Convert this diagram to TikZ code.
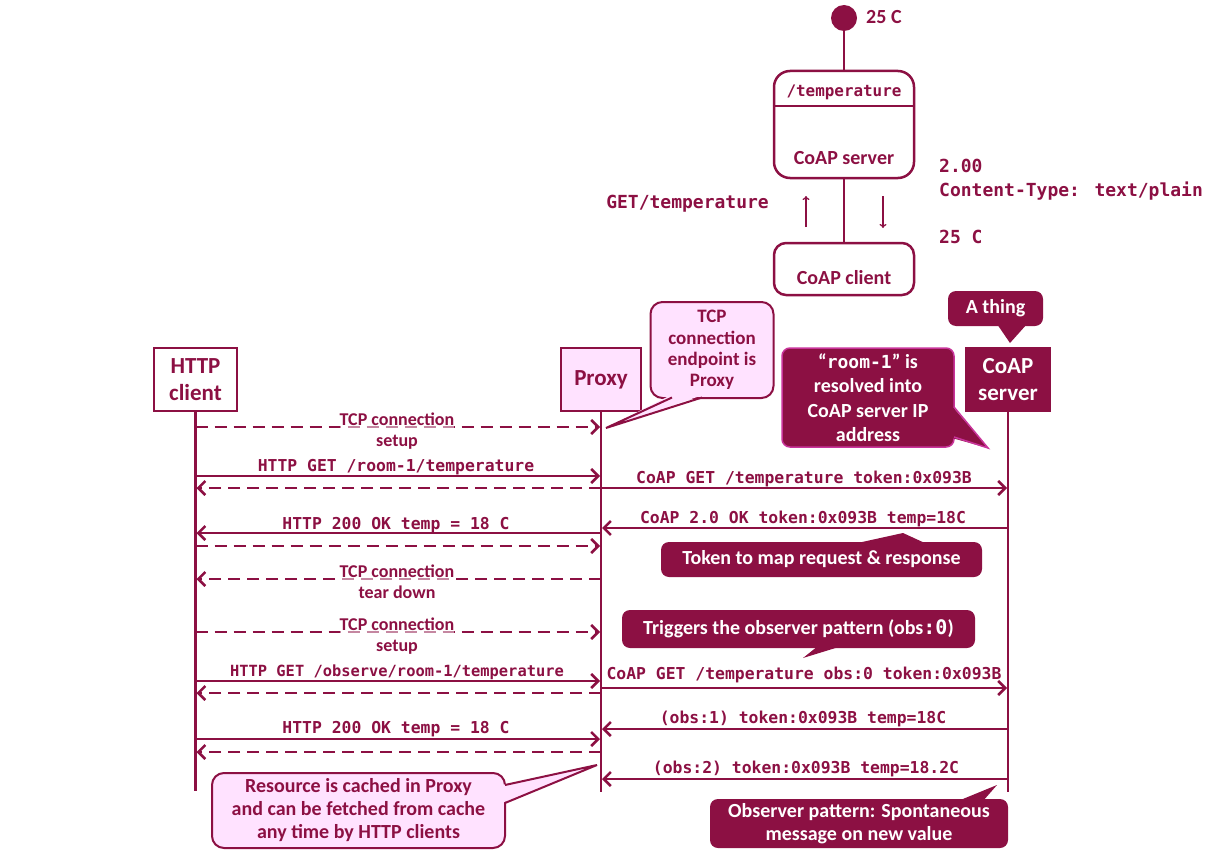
\documentclass[tikz,border=0pt]{standalone}
\usepackage{fontspec}
\setmainfont{Carlito}
\newfontfamily\monof{DejaVu Sans Mono}
\usetikzlibrary{arrows.meta}
\definecolor{mar}{HTML}{8C1043}
\definecolor{pnk}{HTML}{FFE2FF}
\definecolor{mag}{HTML}{C8349A}
\begin{document}
\begin{tikzpicture}[x=1pt,y=-1pt,
  lifebox/.style={draw=mar,line width=2pt,text=mar,font=\bfseries\fontsize{23}{27}\selectfont,align=center,inner sep=0pt,minimum height=63pt},
  life/.style={draw=mar,line width=2.5pt},
  msg/.style={draw=mar,line width=2.5pt,-{Straight Barb[length=7pt,width=14pt]},shorten >=1pt},
  dmsg/.style={msg,dash pattern=on 12pt off 7pt},
  mlab/.style={text=mar,font=\monof\bfseries\fontsize{16.4}{20}\selectfont,inner sep=0pt,anchor=base},
  slab/.style={text=mar,font=\bfseries\fontsize{18}{21}\selectfont,align=center,inner sep=0pt,fill=white,fill opacity=0.5,text opacity=1},
  pcall/.style={draw=mar,line width=2pt,fill=pnk,rounded corners=12pt,text=mar,align=center,inner sep=0pt},
  mcall/.style={fill=mar,rounded corners=8pt,text=white,align=center,inner sep=0pt,font=\bfseries\fontsize{20}{23}\selectfont},
  sline/.style={draw=mar,line width=2.5pt},
  stbox/.style={draw=mar,line width=2.5pt,minimum width=140pt},
  stext/.style={text=mar,font=\bfseries\fontsize{20}{22}\selectfont,inner sep=0pt,anchor=base},
  mono18/.style={text=mar,font=\monof\bfseries\fontsize{18}{22}\selectfont,inner sep=0pt},
  thinarr/.style={draw=mar,line width=1.3pt,-{To[length=4pt,width=7pt]}}
]
\useasboundingbox (0,0) rectangle (1216,859);

% ---------- state diagram ----------
\node[circle,fill=mar,minimum size=26pt,inner sep=0pt] (init) at (844,18) {};
\node[stext,anchor=base west] (t25) at (866,24) {25 C};
\node[stbox,rounded corners=16pt,minimum height=107pt] (srv) at (844,124.5) {};
\draw[sline] (srv.west |- 0,106) -- (srv.east |- 0,106);
\node[mono18,font=\monof\bfseries\fontsize{15.9}{20}\selectfont,anchor=base] (srvname) at (844,96) {/temperature};
\node[stext] (srvlbl) at (844,164) {CoAP server};
\node[stbox,rounded corners=12pt,minimum height=52pt] (cli) at (844,269) {};
\node[stext] (clilbl) at (844,284) {CoAP client};
\draw[sline] (init) -- (srv);
\draw[sline] (srv) -- (cli);
\coordinate (upA) at (806,227); \coordinate (upB) at (806,196);
\coordinate (dnA) at (883,196); \coordinate (dnB) at (883,228);
\draw[thinarr] (upA) -- (upB);
\draw[thinarr] (dnA) -- (dnB);
\node[mono18,anchor=base east] (getl) at (769,208) {GET/temperature};
\node[mono18,anchor=base west] (r1) at (939,172) {2.00};
\node[mono18,anchor=base west] (r2) at (939,196) {Content-Type: text/plain};
\node[mono18,anchor=base west] (r3) at (939,243) {25 C};

% ---------- lifelines ----------
\node[lifebox,minimum width=83pt] (hc) at (195.5,379.5) {HTTP\\client};
\node[lifebox,fill=pnk,minimum width=80pt] (px) at (601,379.5) {Proxy};
\node[lifebox,fill=mar,text=white,minimum width=84pt] (cs) at (1008,379.5) {CoAP\\server};
\coordinate (hcE) at (195.5,791);
\coordinate (pxE) at (601,792);
\coordinate (csE) at (1008,792);
\draw[life] (hc.south) -- (hcE);
\draw[life] (px.south) -- (pxE);
\draw[life] (cs.south) -- (csE);

% ---------- messages ----------
\draw[dmsg] (hc.south |- 0,427) -- (px.south |- 0,427);
\node[slab] (m1) at (397,431) {TCP connection\\setup};
\draw[msg] (hc.south |- 0,476) -- (px.south |- 0,476);
\node[mlab] (m2) at (396,471) {HTTP GET /room-1/temperature};
\draw[dmsg] (px.south |- 0,488) -- (hc.south |- 0,488);
\draw[msg] (px.south |- 0,488) -- (cs.south |- 0,488);
\node[mlab] (m4) at (804,483) {CoAP GET /temperature token:0x093B};
\draw[msg] (cs.south |- 0,528) -- (px.south |- 0,528);
\node[mlab] (m5) at (803,523) {CoAP 2.0 OK token:0x093B temp=18C};
\draw[msg] (px.south |- 0,533) -- (hc.south |- 0,533);
\node[mlab] (m6) at (396,529) {HTTP 200 OK temp = 18 C};
\draw[dmsg] (hc.south |- 0,546) -- (px.south |- 0,546);
\draw[dmsg] (px.south |- 0,579) -- (hc.south |- 0,579);
\node[slab] (m8) at (397,582) {TCP connection\\tear down};
\draw[dmsg] (hc.south |- 0,632) -- (px.south |- 0,632);
\node[slab] (m9) at (397,636) {TCP connection\\setup};
\draw[msg] (hc.south |- 0,681) -- (px.south |- 0,681);
\node[mlab,font=\monof\bfseries\fontsize{15.4}{20}\selectfont] (m10) at (397,676) {HTTP GET /observe/room-1/temperature};
\draw[dmsg] (px.south |- 0,693) -- (hc.south |- 0,693);
\draw[msg] (px.south |- 0,688) -- (cs.south |- 0,688);
\node[mlab] (m12) at (804,679) {CoAP GET /temperature obs:0 token:0x093B};
\draw[msg] (cs.south |- 0,729) -- (px.south |- 0,729);
\node[mlab] (m13) at (803,723) {(obs:1) token:0x093B temp=18C};
\draw[msg] (hc.south |- 0,739) -- (px.south |- 0,739);
\node[mlab] (m14) at (396,733) {HTTP 200 OK temp = 18 C};
\draw[dmsg] (px.south |- 0,752) -- (hc.south |- 0,752);
\draw[msg] (cs.south |- 0,779) -- (px.south |- 0,779);
\node[mlab] (m16) at (806,773) {(obs:2) token:0x093B temp=18.2C};

% ---------- callouts ----------
% TCP endpoint (pink)
\node[pcall,minimum width=123pt,minimum height=96pt,font=\bfseries\fontsize{19}{21.3}\selectfont] (ctcp) at (712,350) {TCP\\connection\\endpoint is\\Proxy};
\coordinate (ctcpT) at (606,428);
\fill[pnk] (671,395) -- (ctcpT) -- (703,395) -- cycle;
\draw[mar,line width=2pt,line join=miter] (672,397.5) -- (ctcpT) -- (702,397.5);

% A thing
\node[mcall,minimum width=95pt,minimum height=35pt] (cthing) at (995.5,308.5) {A thing};
\coordinate (cthingT) at (1010,343);
\fill[mar] (997,324) -- (cthingT) -- (1027,324) -- cycle;

% room-1 resolved
\node[mcall,draw=mag,line width=1.5pt,minimum width=172pt,minimum height=99pt,font=\bfseries\fontsize{20}{24.5}\selectfont] (croom) at (868,397.5) {“{\monof\bfseries\fontsize{18}{24.5}\selectfont room-1}” is\\resolved into\\CoAP server IP\\address};
\coordinate (croomT) at (988,448);
\fill[mar] (952,406) -- (croomT) -- (952,438) -- cycle;
\draw[mag,line width=1.5pt] (954,407) -- (croomT) -- (954,437);

% Token
\node[mcall,minimum width=321pt,minimum height=35pt] (ctok) at (821.5,559.5) {Token to map request \& response};
\coordinate (ctokT) at (903,533);
\fill[mar] (853,544) -- (ctokT) -- (927,544) -- cycle;

% Triggers
\node[mcall,minimum width=353pt,minimum height=38pt] (ctrig) at (798.5,629) {Triggers the observer pattern (obs{\monof\bfseries:0})};
\coordinate (ctrigT) at (803,658);
\fill[mar] (818,646) -- (ctrigT) -- (842,646) -- cycle;

% Observer pattern
\node[mcall,minimum width=298pt,minimum height=49pt] (cobs) at (859,823.5) {Observer pattern: Spontaneous\\message on new value};
\coordinate (cobsT) at (997,785);
\fill[mar] (958,801) -- (cobsT) -- (983,801) -- cycle;

% Resource cached (pink)
\node[pcall,minimum width=293pt,minimum height=75pt,font=\bfseries\fontsize{20}{23}\selectfont] (cres) at (358.5,810.5) {Resource is cached in Proxy\\and can be fetched from cache\\any time by HTTP clients};
\coordinate (cresT) at (597,765);
\fill[pnk] (502,785) -- (cresT) -- (502,803) -- cycle;
\draw[mar,line width=2pt] (505,785) -- (cresT) -- (505,803);
\end{tikzpicture}
\end{document}
